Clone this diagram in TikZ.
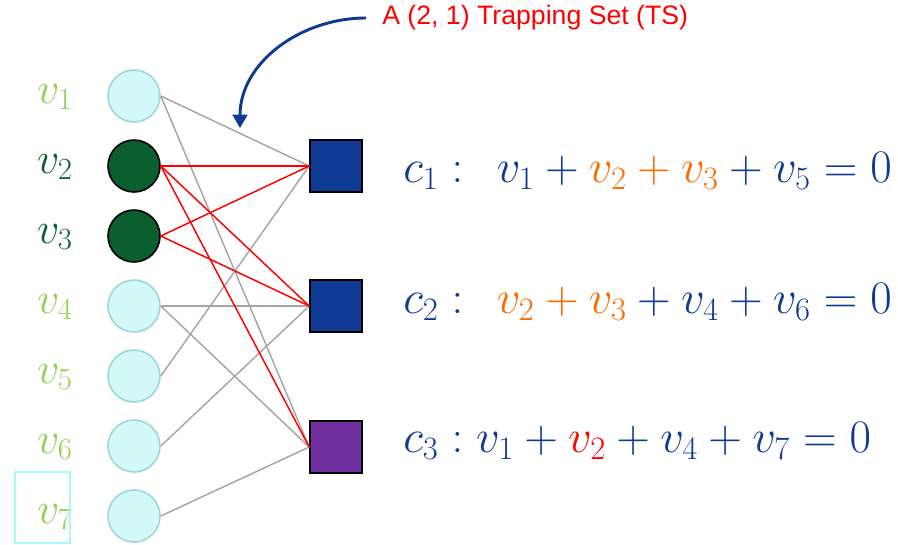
\RequirePackage{fix-cm}
\documentclass[tikz,border=0pt]{standalone}
\usepackage{fontspec}
\newfontfamily\arialfont{Liberation Sans}
\usetikzlibrary{arrows.meta}
\definecolor{vlight}{HTML}{92D050}
\definecolor{vdark}{HTML}{0B5E2E}
\definecolor{navy}{HTML}{0F3A94}
\definecolor{tsorange}{HTML}{FF6A00}
\definecolor{cpurple}{HTML}{7030A0}
\definecolor{vfill}{HTML}{D2F8F8}
\definecolor{vborder}{HTML}{9ED6DB}
\definecolor{edgegray}{HTML}{A6A6A6}

\begin{document}
\begin{tikzpicture}[x=0.75pt, y=-0.75pt,
  var/.style={circle, draw=vborder, fill=vfill, line width=1.2pt, minimum size=39pt, inner sep=0pt},
  tsvar/.style={circle, draw=black, fill=vdark, line width=1.2pt, minimum size=39pt, inner sep=0pt},
  chk/.style={rectangle, draw=black, fill=navy, line width=1.2pt, minimum size=39pt, inner sep=0pt},
  lbl/.style={font=\fontsize{33}{38}\selectfont, text=vlight, anchor=base east, inner sep=0pt},
  eqn/.style={font=\fontsize{35}{40}\selectfont, text=navy, anchor=base west, inner sep=0pt},
  plain/.style={edgegray, line width=1.1pt},
  hot/.style={red, line width=1.1pt}]

  \useasboundingbox (0,0) rectangle (898,544);

  % Variable nodes (left column)
  \node[var]   (v1) at (134,96)  {};
  \node[tsvar] (v2) at (134,166) {};
  \node[tsvar] (v3) at (134,236) {};
  \node[var]   (v4) at (134,306) {};
  \node[var]   (v5) at (134,376) {};
  \node[var]   (v6) at (134,446) {};
  \node[var]   (v7) at (134,516) {};

  % Labels of the variable nodes
  \node[lbl] (l1) at (73,103) {$v_1$};
  \node[lbl, text=vdark] (l2) at (73,173) {$v_2$};
  \node[lbl, text=vdark] (l3) at (73,243) {$v_3$};
  \node[lbl] (l4) at (73,313) {$v_4$};
  \node[lbl] (l5) at (73,383) {$v_5$};
  \node[lbl] (l6) at (73,453) {$v_6$};
  \node[lbl] (l7) at (73,523) {$v_7$};
  \draw[draw=vfill!80!cyan, line width=1pt] (15,472) rectangle (70,543);

  % Check nodes (right column)
  \node[chk]                (c1) at (336,166) {};
  \node[chk]                (c2) at (336,306) {};
  \node[chk, fill=cpurple]  (c3) at (336,447) {};

  % Gray edges
  \draw[plain] (v1.east) -- (c1.west);
  \draw[plain] (v5.east) -- (c1.west);
  \draw[plain] (v4.east) -- (c2.west);
  \draw[plain] (v6.east) -- (c2.west);
  \draw[plain] (v1.east) -- (c3.west);
  \draw[plain] (v4.east) -- (c3.west);
  \draw[plain] (v7.east) -- (c3.west);

  % Red edges of the trapping set
  \draw[hot] (v2.east) -- (c1.west);
  \draw[hot] (v3.east) -- (c1.west);
  \draw[hot] (v2.east) -- (c2.west);
  \draw[hot] (v3.east) -- (c2.west);
  \draw[hot] (v2.east) -- (c3.west);

  % Parity check equations
  \node[eqn] (e1) at (403,182) {$c_1:\;\, v_1+\textcolor{tsorange}{v_2+v_3}+v_5=0$};
  \node[eqn] (e2) at (403,313) {$c_2:\;\, \textcolor{tsorange}{v_2+v_3}+v_4+v_6=0$};
  \node[eqn] (e3) at (403,452) {$c_3: v_1+\textcolor{red}{v_2}+v_4+v_7=0$};

  % Trapping set caption and arrow
  \node[font=\arialfont\fontsize{20}{24}\selectfont, text=red, anchor=west, inner sep=0pt] (ts) at (382,18) {A (2, 1) Trapping Set (TS)};
  \coordinate (tsend) at (240,128);
  \draw[navy, line width=2.2pt, -{Triangle[length=10pt, width=11pt]}]
    ([xshift=-12pt]ts.west) to[out=180, in=90] (tsend);

\end{tikzpicture}
\end{document}
